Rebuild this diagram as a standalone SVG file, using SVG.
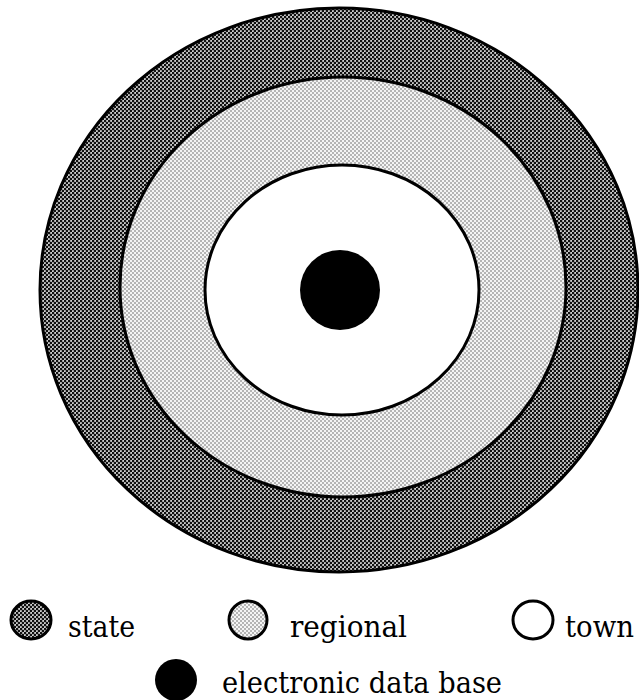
<svg xmlns="http://www.w3.org/2000/svg" width="639" height="700" viewBox="0 0 639 700">
  <defs>
    <pattern id="dark" width="4" height="4" patternUnits="userSpaceOnUse">
      <rect width="4" height="4" fill="#cfcfcf"/>
      <circle cx="1" cy="1" r="1.35" fill="#111"/>
      <circle cx="3" cy="3" r="1.35" fill="#111"/>
    </pattern>
    <pattern id="light" width="4" height="4" patternUnits="userSpaceOnUse">
      <rect width="4" height="4" fill="#f4f4f4"/>
      <circle cx="1" cy="1" r="0.75" fill="#555"/>
      <circle cx="3" cy="3" r="0.75" fill="#555"/>
    </pattern>
  </defs>
  <style>
    .ring { stroke: #000; stroke-width: 3; }
    .key { stroke: #000; stroke-width: 3; }
    .lbl { font-family: "DejaVu Serif", "Liberation Serif", serif; font-size: 30px; fill: #000; }
  </style>

  <g id="state-ring">
    <ellipse class="ring" cx="339" cy="290" rx="299" ry="282" fill="url(#dark)"/>
  </g>
  <g id="regional-ring">
    <ellipse class="ring" cx="343" cy="287" rx="223" ry="210" fill="url(#light)"/>
  </g>
  <g id="town-ring">
    <ellipse class="ring" cx="342" cy="290" rx="137" ry="125" fill="#fff"/>
  </g>
  <g id="database">
    <circle cx="340" cy="290" r="40" fill="#000"/>
  </g>

  <g id="legend-state">
    <ellipse class="key" cx="31" cy="620" rx="20" ry="19" fill="url(#dark)"/>
    <text class="lbl" x="68" y="637" textLength="67" lengthAdjust="spacingAndGlyphs">state</text>
  </g>
  <g id="legend-regional">
    <ellipse class="key" cx="248" cy="620" rx="19" ry="19" fill="url(#light)"/>
    <text class="lbl" x="290" y="637" textLength="117" lengthAdjust="spacingAndGlyphs">regional</text>
  </g>
  <g id="legend-town">
    <ellipse class="key" cx="533" cy="620" rx="20" ry="19" fill="#fff"/>
    <text class="lbl" x="565" y="637" textLength="69" lengthAdjust="spacingAndGlyphs">town</text>
  </g>
  <g id="legend-database">
    <ellipse cx="176" cy="680" rx="21" ry="21" fill="#000"/>
    <text class="lbl" x="222" y="693" textLength="280" lengthAdjust="spacingAndGlyphs">electronic data base</text>
  </g>
</svg>
